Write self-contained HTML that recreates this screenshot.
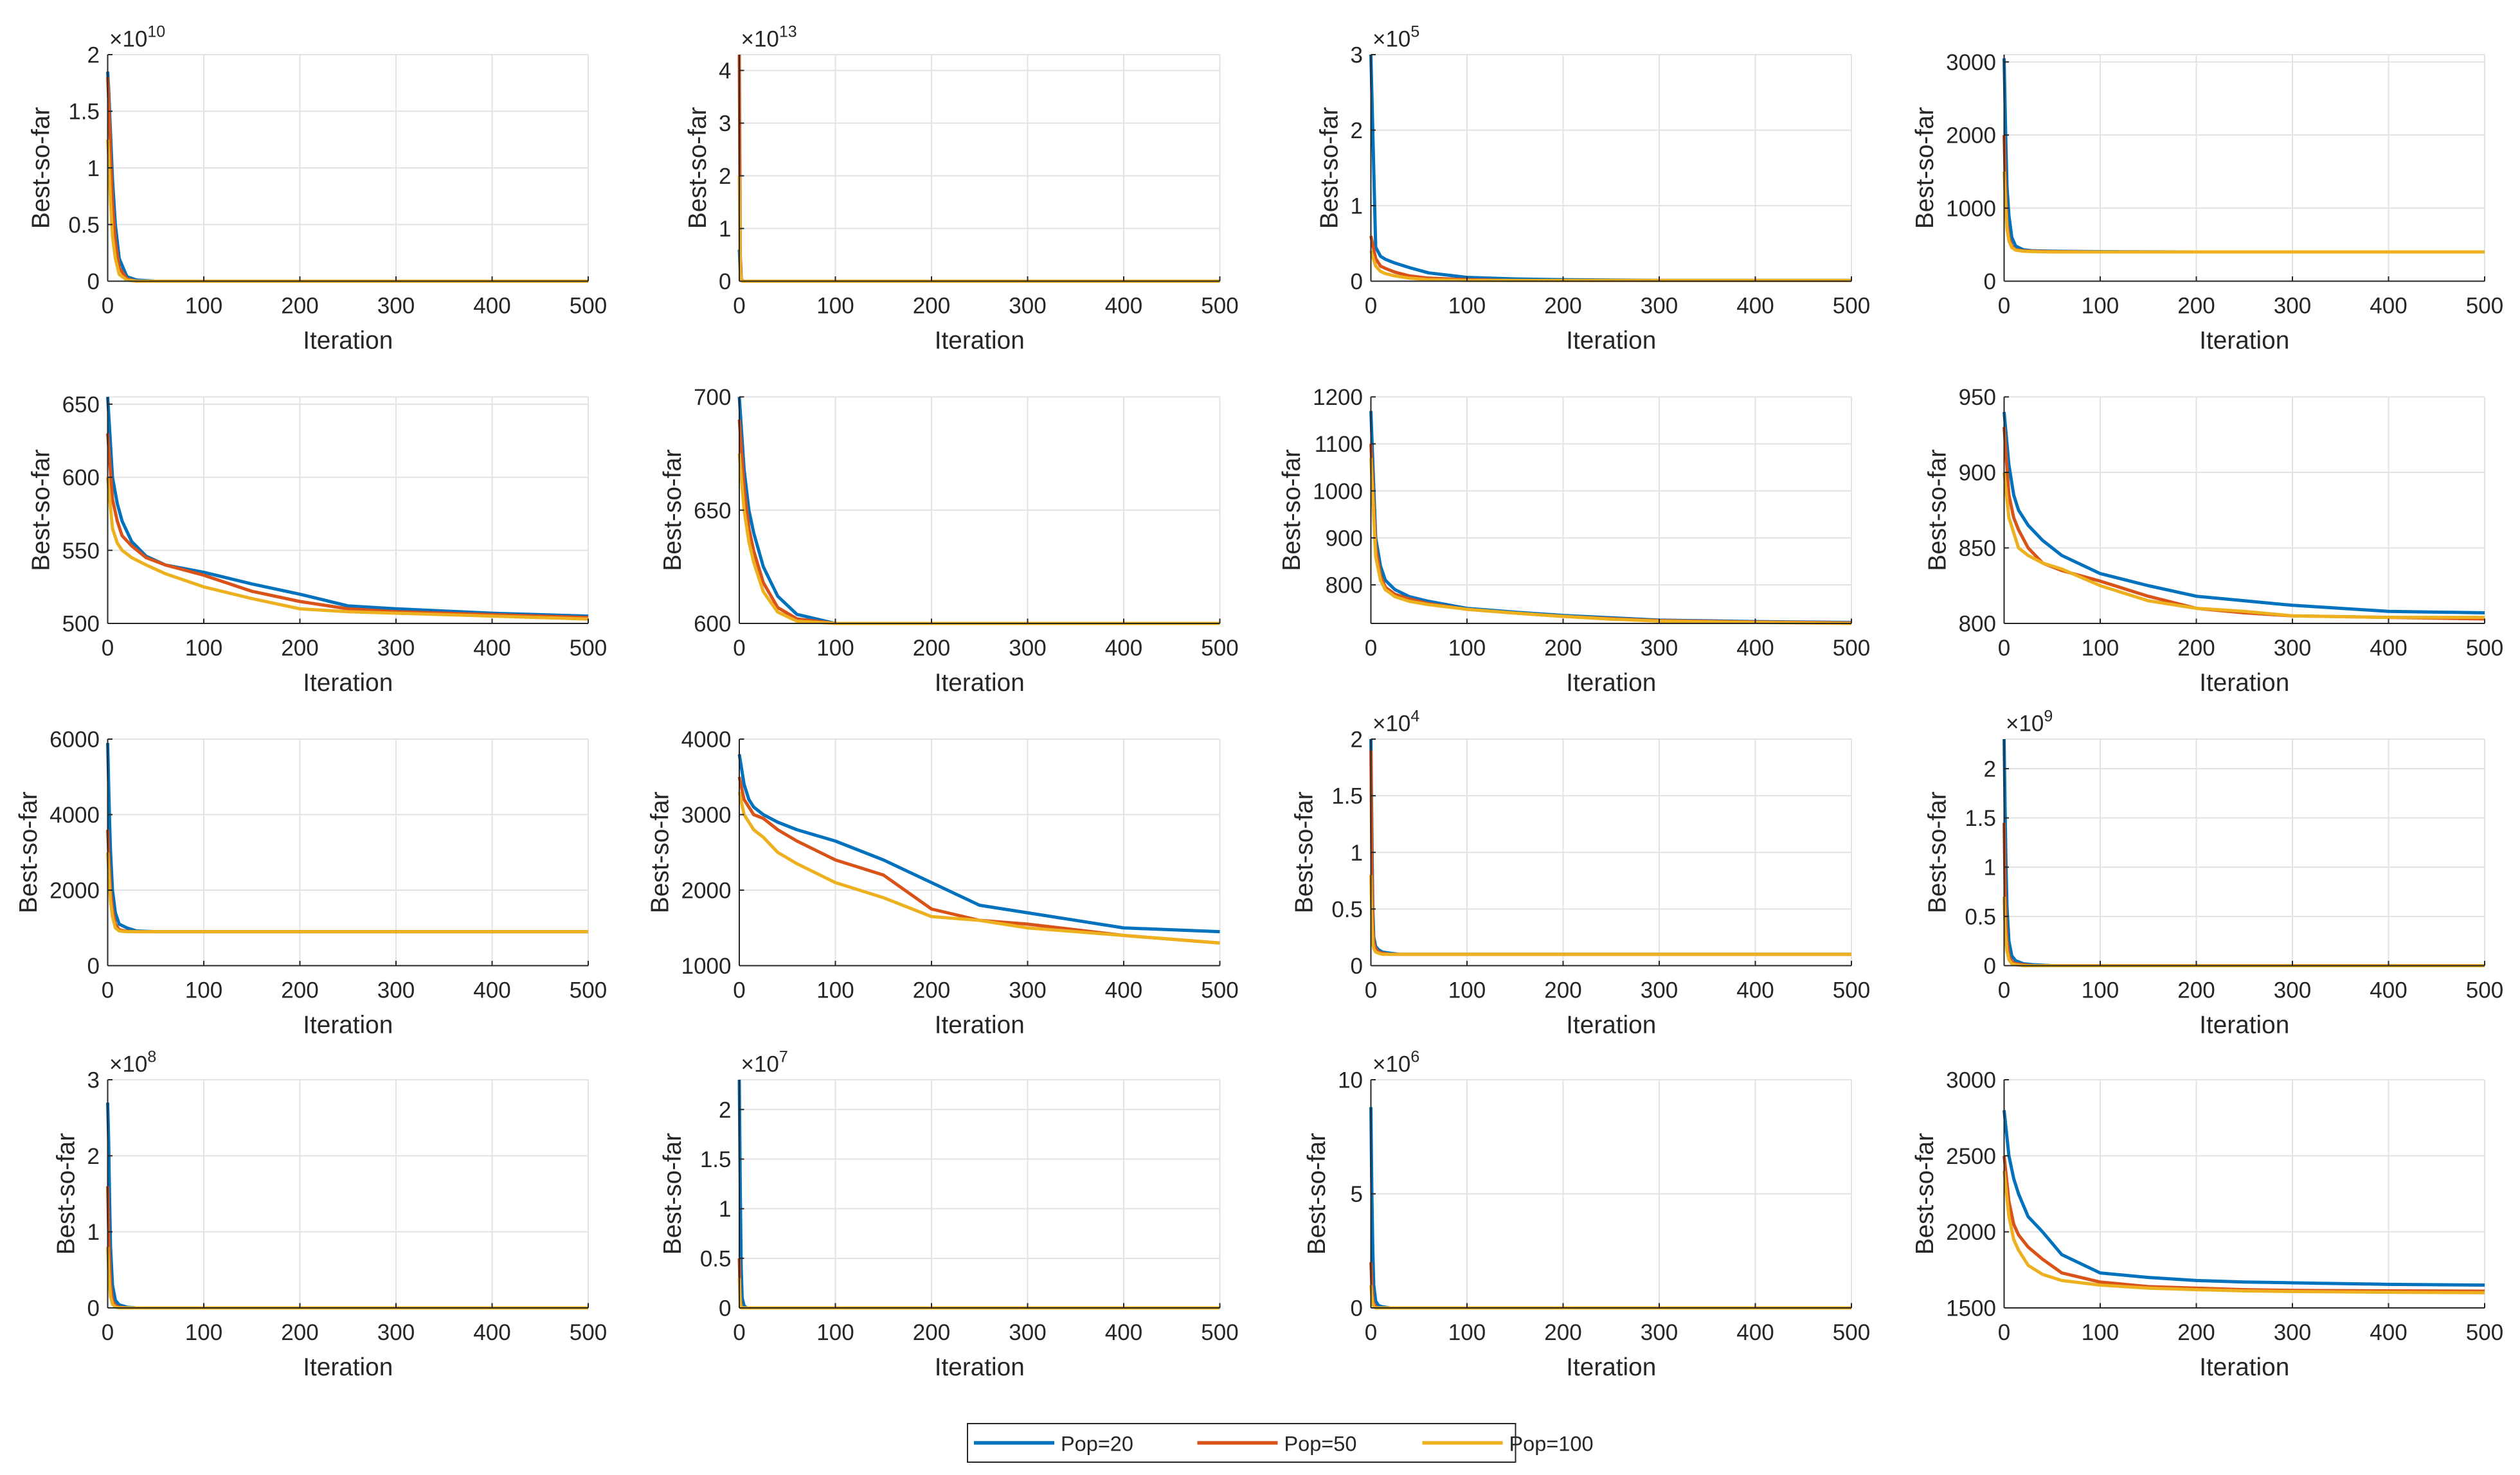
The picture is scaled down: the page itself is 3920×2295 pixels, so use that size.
<!DOCTYPE html>
<html><head><meta charset="utf-8"><style>
html,body{margin:0;padding:0;background:#fff}
svg{display:block}
text{font-family:"Liberation Sans",Arial,sans-serif;fill:#262626}
</style></head><body>
<svg id="fig" width="3920" height="2295" viewBox="0 0 1568 918" xmlns="http://www.w3.org/2000/svg"></svg>
<script>
// ---- data ----
const seriesNames = ["Pop=20","Pop=50","Pop=100"];
const seriesColors = ["#0072BD","#D95319","#EDB120"];
const xTicks = [0,100,200,300,400,500];
const itFast = [0,1,2,3,5,8,12,20,30,50,100,200,300,500];
const itSlow = [0,5,10,15,25,40,60,100,150,200,250,300,400,500];
// panel configs: ylim, ticks, exponent
const yMins = [0,0,0,0, 500,600,718,800, 0,1000,0,0, 0,0,0,1500];
const yMaxs = [2,4.3,3,3100, 655,700,1200,950, 6000,4000,2,2.3, 3,2.3,10,3000];
const yTickSets = [
 [0,0.5,1,1.5,2],[0,1,2,3,4],[0,1,2,3],[0,1000,2000,3000],
 [500,550,600,650],[600,650,700],[800,900,1000,1100,1200],[800,850,900,950],
 [0,2000,4000,6000],[1000,2000,3000,4000],[0,0.5,1,1.5,2],[0,0.5,1,1.5,2],
 [0,1,2,3],[0,0.5,1,1.5,2],[0,5,10],[1500,2000,2500,3000]];
const exps = [10,13,5,null, null,null,null,null, null,null,4,9, 8,7,6,null];
const iterSets = [itFast,itFast,itSlow,itFast, itSlow,itSlow,itSlow,itSlow, itFast,itSlow,itFast,itFast, itFast,itFast,itFast,itSlow];
const pop20 = [
 [1.85,1.7,1.5,1.3,0.9,0.5,0.2,0.04,0.01,0,0,0,0,0],
 [0.6,0.2,0.05,0.01,0,0,0,0,0,0,0,0,0,0],
 [3,0.45,0.33,0.29,0.24,0.18,0.11,0.05,0.03,0.02,0.015,0.01,0.01,0.01],
 [3050,2400,1800,1300,900,600,480,430,415,410,405,400,400,400],
 [655,600,582,570,556,546,540,535,527,520,512,510,507,505],
 [700,668,650,640,625,612,604,600,600,600,600,600,600,600],
 [1170,900,840,810,790,775,765,750,742,735,730,725,722,720],
 [940,905,885,875,865,855,845,833,825,818,815,812,808,807],
 [5900,4800,3800,3000,2000,1400,1100,1000,920,900,900,900,900,900],
 [3800,3400,3200,3100,3000,2900,2800,2650,2400,2100,1800,1700,1500,1450],
 [2.0,1.2,0.5,0.25,0.17,0.14,0.12,0.11,0.1,0.1,0.1,0.1,0.1,0.1],
 [2.3,1.6,1.0,0.6,0.25,0.1,0.05,0.02,0.01,0,0,0,0,0],
 [2.7,2.2,1.4,0.8,0.3,0.1,0.04,0.01,0,0,0,0,0,0],
 [2.3,1.2,0.4,0.1,0.02,0,0,0,0,0,0,0,0,0],
 [8.8,5,2.5,1,0.3,0.1,0.05,0,0,0,0,0,0,0],
 [2800,2500,2350,2250,2100,2000,1850,1730,1700,1680,1670,1665,1655,1650]];
const pop50 = [
 [1.8,1.6,1.4,1.1,0.7,0.35,0.12,0.02,0,0,0,0,0,0],
 [4.3,0.5,0.05,0.01,0,0,0,0,0,0,0,0,0,0],
 [0.6,0.3,0.2,0.17,0.12,0.07,0.04,0.02,0.01,0.01,0.01,0.01,0.01,0.01],
 [2000,1500,1100,800,600,480,430,415,410,405,400,400,400,400],
 [630,585,570,560,553,545,540,533,522,515,510,508,506,504],
 [690,660,642,632,618,607,602,600,600,600,600,600,600,600],
 [1100,880,820,795,780,770,760,748,740,733,728,724,721,719],
 [930,885,870,862,850,840,835,828,818,810,807,805,804,803],
 [3600,3000,2500,2000,1500,1100,950,910,900,900,900,900,900,900],
 [3500,3200,3100,3000,2950,2800,2650,2400,2200,1750,1600,1550,1400,1300],
 [1.9,0.9,0.35,0.2,0.15,0.12,0.11,0.1,0.1,0.1,0.1,0.1,0.1,0.1],
 [1.45,0.8,0.45,0.25,0.1,0.04,0.02,0.01,0,0,0,0,0,0],
 [1.6,1.0,0.6,0.3,0.1,0.03,0.01,0,0,0,0,0,0,0],
 [0.5,0.1,0.02,0,0,0,0,0,0,0,0,0,0,0],
 [2,1,0.4,0.15,0.05,0,0,0,0,0,0,0,0,0],
 [2500,2200,2050,1980,1900,1820,1730,1670,1640,1630,1620,1615,1612,1610]];
const pop100 = [
 [1.25,1.1,0.9,0.7,0.4,0.2,0.06,0.01,0,0,0,0,0,0],
 [2,0.2,0.02,0,0,0,0,0,0,0,0,0,0,0],
 [0.4,0.2,0.13,0.1,0.07,0.04,0.02,0.01,0.01,0.01,0.01,0.01,0.01,0.01],
 [1500,1200,950,720,550,460,425,410,405,400,400,400,400,400],
 [600,565,555,550,545,540,534,525,517,510,508,507,505,503],
 [675,650,636,627,614,605,601,600,600,600,600,600,600,600],
 [1070,860,810,790,775,765,758,748,740,733,727,723,720,718],
 [900,870,860,850,845,840,836,825,815,810,808,805,804,804],
 [3000,2500,2100,1700,1300,1000,920,900,900,900,900,900,900,900],
 [3300,3000,2900,2800,2700,2500,2350,2100,1900,1650,1600,1500,1400,1300],
 [0.8,0.4,0.2,0.15,0.12,0.11,0.1,0.1,0.1,0.1,0.1,0.1,0.1,0.1],
 [0.7,0.4,0.25,0.15,0.06,0.02,0.01,0,0,0,0,0,0,0],
 [0.8,0.5,0.3,0.15,0.05,0.01,0,0,0,0,0,0,0,0],
 [0.3,0.05,0,0,0,0,0,0,0,0,0,0,0,0],
 [1,0.5,0.2,0.05,0,0,0,0,0,0,0,0,0,0],
 [2400,2100,1950,1880,1780,1720,1680,1650,1630,1620,1612,1608,1603,1600]];
const allSeries = [pop20, pop50, pop100];

// ---- layout ----
const colL = [67,460,853,1247], colR = [366,759,1152,1546];
const rowT = [34,247,460,672], rowB = [175,388,601,814];
const NS = "http://www.w3.org/2000/svg";
const svg = document.getElementById('fig');
function mk(tag, attrs, parent){
  const e = document.createElementNS(NS, tag);
  for (const k in attrs) e.setAttribute(k, attrs[k]);
  (parent||svg).appendChild(e); return e;
}
function fmt(v){ return String(v); }

for (let p = 0; p < 16; p++) {
  const r = Math.floor(p/4), c = p%4;
  const L = colL[c], R = colR[c], T = rowT[r], B = rowB[r];
  const yMin = yMins[p], yMax = yMaxs[p];
  const xs = v => L + (v/500)*(R-L);
  const ys = v => B - (v-yMin)/(yMax-yMin)*(B-T);
  const g = mk('g', {});
  
  
  // grid
  xTicks.forEach(t => { if (t>0) mk('line',{x1:xs(t),x2:xs(t),y1:T,y2:B,stroke:'#e3e3e3','stroke-width':0.8},g); });
  yTickSets[p].forEach(t => { if (t>yMin) mk('line',{x1:L,x2:R,y1:ys(t),y2:ys(t),stroke:'#e3e3e3','stroke-width':0.8},g); });
  mk('line',{x1:L,x2:R,y1:T,y2:T,stroke:'#e3e3e3','stroke-width':0.8},g);
  mk('line',{x1:R,x2:R,y1:T,y2:B,stroke:'#e3e3e3','stroke-width':0.8},g);
  // series
  const its = iterSets[p];
  for (let s = 0; s < 3; s++) {
    const vals = allSeries[s][p];
    let d = '';
    its.forEach((it,i) => { d += (i?'L':'M') + xs(it).toFixed(2) + ',' + ys(vals[i]).toFixed(2); });
    const path = mk('path',{d:d,fill:'none',stroke:seriesColors[s],'stroke-width':2,'stroke-linejoin':'round'},g);
    
    
  }
  // axes
  mk('line',{x1:L,x2:L,y1:T,y2:B,stroke:'#262626','stroke-width':0.8},g);
  mk('line',{x1:L,x2:R,y1:B,y2:B,stroke:'#262626','stroke-width':0.8},g);
  xTicks.forEach(t => {
    mk('line',{x1:xs(t),x2:xs(t),y1:B,y2:B-3,stroke:'#262626','stroke-width':0.8},g);
    const tx = mk('text',{x:xs(t),y:B+20,'font-size':14,'text-anchor':'middle'},g); tx.textContent = fmt(t);
  });
  let maxW = 0;
  yTickSets[p].forEach(t => {
    mk('line',{x1:L,x2:L+3,y1:ys(t),y2:ys(t),stroke:'#262626','stroke-width':0.8},g);
    const tx = mk('text',{x:L-5,y:ys(t)+5,'font-size':14,'text-anchor':'end'},g); tx.textContent = fmt(t);
    maxW = Math.max(maxW, fmt(t).length*7.8);
  });
  const xl = mk('text',{x:(L+R)/2,y:B+42,'font-size':15.5,'text-anchor':'middle'},g);
  xl.textContent = 'Iteration';
  
  
  const lx = L-5-maxW-8, ly = (T+B)/2;
  const yl = mk('text',{x:lx,y:ly,'font-size':15.5,'text-anchor':'middle',transform:`rotate(-90 ${lx} ${ly})`},g);
  yl.textContent = 'Best-so-far';
  
  
  if (exps[p] !== null) {
    const ex = mk('text',{x:L+1,y:T-5,'font-size':14},g);
    ex.innerHTML = '×10<tspan dy="-6" font-size="10">' + exps[p] + '</tspan>';
    
    
  }
}
// legend
const lg = mk('g',{});


mk('rect',{x:602,y:886,width:341,height:24,fill:'#fff',stroke:'#262626','stroke-width':0.8},lg);
const legX = [606,745,885], legTX = [658,797,937];
for (let s = 0; s < 3; s++) {
  const e = mk('g',{},lg);
  
  
  mk('line',{x1:legX[s],x2:legX[s]+50,y1:898,y2:898,stroke:seriesColors[s],'stroke-width':2.2},e);
  const t = mk('text',{x:legX[s]+54,y:903,'font-size':13},e);
  t.textContent = seriesNames[s];
}
</script>
</body></html>
